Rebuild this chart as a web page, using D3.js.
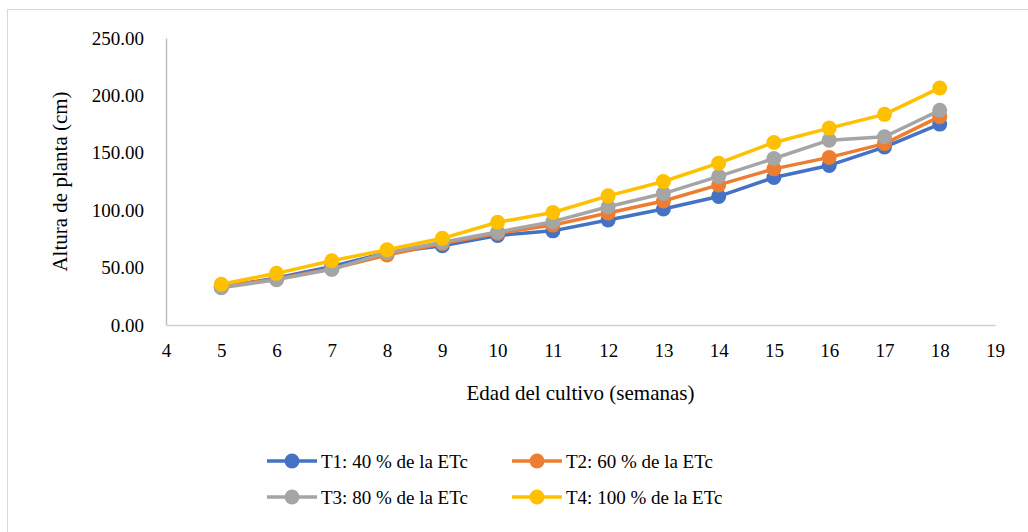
<!DOCTYPE html>
<html>
<head>
<meta charset="utf-8">
<script src="https://cdn.jsdelivr.net/npm/d3@7"></script>
<style>
  body { margin: 0; background: #fff; }
</style>
</head>
<body>
<svg id="chart" width="1028" height="532"></svg>
<script>
// weeks of crop age
var weeks = [5, 6, 7, 8, 9, 10, 11, 12, 13, 14, 15, 16, 17, 18];

// plant height (cm) per treatment
var t1 = [33, 41, 51, 63, 69, 78, 82, 91.5, 101, 112, 128.5, 139, 155, 175];
var t2 = [33.5, 40, 49, 61, 71, 80, 87, 97.5, 108, 122, 136, 146, 158, 181.5];
var t3 = [32.5, 39.5, 48.5, 63, 72, 81, 90, 103, 114.5, 129.5, 145, 161, 164, 187];
var t4 = [35.5, 45, 56, 65.5, 75.5, 89.5, 98, 112.5, 125, 141, 159, 171.5, 183.5, 206.5];

var seriesNames = ["T1: 40 % de la ETc", "T2: 60 % de la ETc", "T3: 80 % de la ETc", "T4: 100 % de la ETc"];
var seriesColors = ["#4472c4", "#ed7d31", "#a5a5a5", "#ffc000"];

var xTicks = [4, 5, 6, 7, 8, 9, 10, 11, 12, 13, 14, 15, 16, 17, 18, 19];
var yTicks = [0, 50, 100, 150, 200, 250];

var FONT = "'Liberation Serif', 'Times New Roman', Tinos, monospace";

var svg = d3.select("#chart");

// chart area border
svg.append("rect")
    .attr("x", 7.5).attr("y", 9.5)
    .attr("width", 1100).attr("height", 600)
    .attr("fill", "none")
    .attr("stroke", "#d9d9d9")
    .attr("stroke-width", 1);

var x = d3.scaleLinear().domain([4, 19]).range([166, 995]);
var y = d3.scaleLinear().domain([0, 250]).range([325, 38]);

// axes
var yAxis = svg.append("g")
    .attr("transform", "translate(" + x(4) + ",0)")
    .call(d3.axisLeft(y).tickValues(yTicks).tickSize(0).tickPadding(22)
        .tickFormat(function (d) { return d3.format(".2f")(d); }));
yAxis.attr("font-family", FONT).attr("font-size", 19);
yAxis.select(".domain").attr("stroke", "#bfbfbf").attr("stroke-width", 1.5);
yAxis.selectAll("text")
    .style("font-family", FONT)
    .style("font-size", "19px")
    .attr("fill", "#000");

var xAxis = svg.append("g")
    .attr("transform", "translate(0," + y(0) + ")")
    .call(d3.axisBottom(x).tickValues(xTicks).tickSize(0).tickPadding(19)
        .tickFormat(d3.format("d")));
xAxis.attr("font-family", FONT).attr("font-size", 19);
xAxis.select(".domain").attr("stroke", "#d0d0d0").attr("stroke-width", 1.5);
xAxis.selectAll("text")
    .style("font-family", FONT)
    .style("font-size", "19px")
    .attr("fill", "#000");

// axis titles
svg.append("text")
    .attr("transform", "translate(67," + ((y(0) + y(250)) / 2) + ") rotate(-90)")
    .attr("text-anchor", "middle")
    .style("font-family", FONT)
    .style("font-size", "21px")
    .text("Altura de planta (cm)");

svg.append("text")
    .attr("x", (x(4) + x(19)) / 2)
    .attr("y", 400)
    .attr("text-anchor", "middle")
    .style("font-family", FONT)
    .style("font-size", "21px")
    .text("Edad del cultivo (semanas)");

// series
var series = [t1, t2, t3, t4].map(function (vals, i) {
    return {
        name: seriesNames[i],
        color: seriesColors[i],
        points: vals.map(function (v, j) { return { week: weeks[j], value: v }; })
    };
});

var line = d3.line()
    .x(function (d) { return x(d.week); })
    .y(function (d) { return y(d.value); });

var groups = svg.append("g").selectAll(".series")
    .data(series)
    .enter()
    .append("g")
    .attr("class", "series");

groups.append("path")
    .attr("d", function (d) { return line(d.points); })
    .attr("fill", "none")
    .attr("stroke", function (d) { return d.color; })
    .attr("stroke-width", 3.5)
    .attr("stroke-linejoin", "round");

groups.selectAll("circle")
    .data(function (d) { return d.points.map(function (p) { return { p: p, color: d.color }; }); })
    .enter()
    .append("circle")
    .attr("cx", function (d) { return x(d.p.week); })
    .attr("cy", function (d) { return y(d.p.value); })
    .attr("r", 7.5)
    .attr("fill", function (d) { return d.color; });

// legend, 2 columns x 2 rows
var legend = svg.append("g").selectAll(".legend")
    .data(series)
    .enter()
    .append("g")
    .attr("class", "legend")
    .attr("transform", function (d, i) {
        return "translate(" + (i % 2 === 0 ? 267 : 512) + "," + (i < 2 ? 461 : 497) + ")";
    });

legend.append("line")
    .attr("x1", 0).attr("x2", 50)
    .attr("stroke", function (d) { return d.color; })
    .attr("stroke-width", 3.5);

legend.append("circle")
    .attr("cx", 25)
    .attr("r", 7.5)
    .attr("fill", function (d) { return d.color; });

legend.append("text")
    .attr("x", 54)
    .attr("dy", "0.35em")
    .style("font-family", FONT)
    .style("font-size", "19px")
    .text(function (d) { return d.name; });
</script>
</body>
</html>
